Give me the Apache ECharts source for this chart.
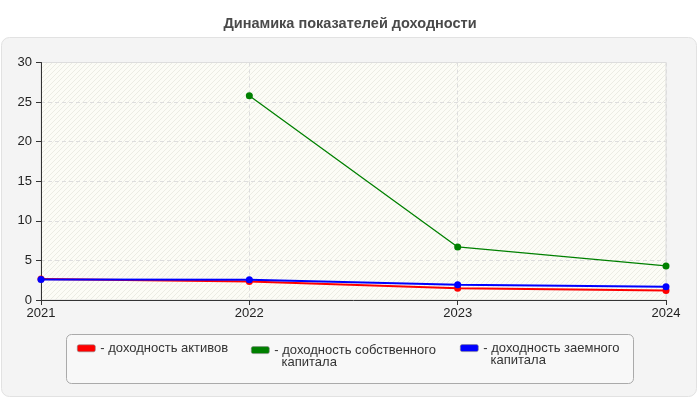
<!DOCTYPE html>
<html><head><meta charset="utf-8">
<script src="https://cdn.jsdelivr.net/npm/echarts@6/dist/echarts.min.js"></script>
<style>html,body{margin:0;padding:0;background:#fff}#c{width:700px;height:400px}</style>
</head><body><div id="c"></div>
<script>
const categories = ['2021', '2022', '2023', '2024'];
const seriesNames = ['доходность активов', 'доходность собственного капитала', 'доходность заемного капитала'];
const assets = [2.65, 2.35, 1.47, 1.2];
const equity = [null, 25.8, 6.7, 4.3];
const borrowed = [2.6, 2.56, 1.92, 1.68];
const yTicks = [0, 5, 10, 15, 20, 25, 30];

const FONT = '"Liberation Sans", Arial, sans-serif';

// hatch pattern for plot background
const tile = document.createElement('canvas');
tile.width = 5; tile.height = 5;
const tc = tile.getContext('2d');
tc.fillStyle = '#fcfcf6'; tc.fillRect(0, 0, 5, 5);
tc.strokeStyle = '#ececE4'; tc.lineWidth = 1;
tc.beginPath();
tc.moveTo(-1, 6); tc.lineTo(6, -1);
tc.stroke();

const chart = echarts.init(document.getElementById('c'), null, {renderer: 'canvas'});
function legendCfg(name, left, top, text) {
  return {
    data: [name], left: left, top: top, orient: 'horizontal', padding: 0,
    itemWidth: 18, itemHeight: 7, icon: 'roundRect',
    formatter: () => text,
    textStyle: { fontFamily: FONT, fontSize: 13, color: '#333', lineHeight: 12 },
    itemStyle: { borderColor: '#888', borderWidth: 0.6 },
    selectedMode: false
  };
}
chart.setOption({
  animation: false,
  backgroundColor: '#ffffff',
  title: {
    text: 'Динамика показателей доходности', left: 'center', top: 11,
    textStyle: { fontFamily: FONT, fontSize: 14.5, fontWeight: 'bold', color: '#4a4a4a', lineHeight: 16 }
  },
  graphic: [
    { type: 'rect', z: -10, shape: { x: 1.5, y: 37.5, width: 695, height: 359, r: 8 },
      style: { fill: '#f4f4f4', stroke: '#e2e2e2', lineWidth: 1 } },
    { type: 'rect', z: -9, shape: { x: 66.5, y: 334.5, width: 567, height: 49, r: 5 },
      style: { fill: '#f8f8f8', stroke: '#aaaaaa', lineWidth: 1 } }
  ],
  legend: [
    legendCfg(seriesNames[0], 77, 341.8, '- доходность активов'),
    legendCfg(seriesNames[1], 251, 331.6, '\n- доходность собственного\n  капитала'),
    legendCfg(seriesNames[2], 460, 329.6, '\n- доходность заемного\n  капитала')
  ],
  grid: {
    left: 41, right: 34, top: 62.5, bottom: 100,
    show: true, borderColor: '#dddddd', borderWidth: 1,
    backgroundColor: { image: tile, repeat: 'repeat' }
  },
  xAxis: {
    type: 'category', data: categories, boundaryGap: false,
    axisLine: { lineStyle: { color: '#333', width: 1 } },
    axisTick: { show: true, length: 5, lineStyle: { color: '#333' } },
    axisLabel: { fontFamily: FONT, fontSize: 13, color: '#222', margin: 7 },
    splitLine: { show: true, lineStyle: { color: '#dddddd', type: [4, 3] } }
  },
  yAxis: {
    type: 'value', min: yTicks[0], max: yTicks[yTicks.length - 1], interval: 5,
    axisLine: { show: true, lineStyle: { color: '#333', width: 1 } },
    axisTick: { show: true, length: 5, lineStyle: { color: '#333' } },
    axisLabel: { fontFamily: FONT, fontSize: 13, color: '#222', margin: 9 },
    splitLine: { show: true, lineStyle: { color: '#dddddd', type: [4, 3] } }
  },
  series: [
    { name: seriesNames[0], type: 'line', data: assets, color: '#ff0000',
      symbol: 'circle', symbolSize: 7, lineStyle: { width: 2 }, z: 2 },
    { name: seriesNames[1], type: 'line', data: equity, color: '#008000',
      symbol: 'circle', symbolSize: 7, lineStyle: { width: 1.3 }, z: 3 },
    { name: seriesNames[2], type: 'line', data: borrowed, color: '#0000ff',
      symbol: 'circle', symbolSize: 7, lineStyle: { width: 2 }, z: 4 }
  ]
});
</script></body></html>
